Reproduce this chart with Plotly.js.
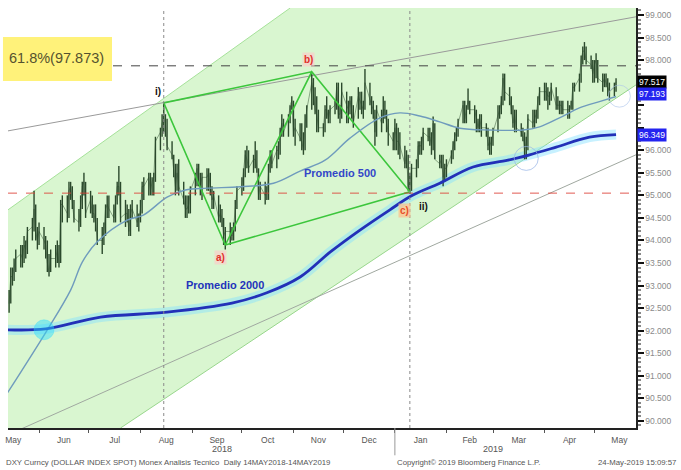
<!DOCTYPE html>
<html>
<head>
<meta charset="utf-8">
<script src="https://cdn.plot.ly/plotly-3.0.1.min.js"></script>
<style>html,body{margin:0;padding:0;background:#fff;}#chart{width:681px;height:470px;}</style>
</head>
<body>
<div id="chart"></div>
<script>
// ---- DATA ----
// daily closes, highs, lows; one group per week (Mon-Fri), 14-May-2018 .. 14-May-2019
const cl = [
92.6,93.2,93.2,93.4,93.6, 93.7,93.6,93.9,93.8,94.2, 94.3,94.7,94.2,94.0,94.2, 94.0,93.9,93.5,93.3,93.6,
93.6,93.8,93.5,94.8,94.8, 94.6,95.1,95.2,94.9,94.5, 94.4,94.8,95.2,95.3,94.6, 94.9,94.6,94.6,94.4,94.0,
94.0,94.2,94.7,94.8,94.7, 94.5,94.9,95.2,95.2,94.5, 94.6,94.6,94.2,94.6,94.7, 94.4,94.5,94.7,95.2,95.2,
95.4,95.1,95.3,95.4,96.2, 96.4,96.6,96.7,96.6,96.1, 95.9,95.6,95.2,95.5,95.2, 94.9,94.7,94.7,94.8,95.1,
95.4,95.6,95.3,95.2,95.4, 95.4,95.5,95.2,94.9,95.0, 94.5,94.6,94.5,94.1,94.2, 94.2,94.1,94.3,94.8,95.1,
95.2,95.5,95.9,95.8,95.6, 95.8,95.8,95.6,95.0,95.2, 95.0,95.1,95.6,95.9,95.7, 96.0,96.0,96.4,96.6,96.4,
96.7,97.0,97.1,96.4,96.5, 96.3,96.2,96.0,96.6,96.9, 97.5,97.3,96.9,96.8,96.5, 96.5,96.9,96.9,96.7,96.9,
97.0,97.4,96.8,96.8,97.3, 97.0,96.9,97.1,96.9,96.6, 97.2,97.1,97.0,96.9,97.5, 97.1,97.0,96.9,96.4,96.9,
96.6,96.9,96.9,96.6,96.4, 96.2,96.5,96.2,96.2,96.1, 95.7,95.9,95.2,95.2,95.6, 95.6,96.1,96.1,96.1,96.4,
96.3,96.3,96.1,96.6,95.8, 95.7,95.8,95.4,95.6,95.6, 95.9,96.1,96.3,96.4,96.6, 97.0,96.7,96.9,97.1,96.9,
96.9,96.7,96.5,96.7,96.5, 96.5,96.1,96.2,96.1,96.4, 96.8,96.9,97.1,97.6,97.3, 97.2,96.9,96.6,96.8,96.5,
96.4,96.3,96.0,96.2,96.7, 96.6,96.7,96.8,97.1,97.3, 97.3,97.3,97.2,97.2,97.4, 97.0,97.0,97.0,97.0,96.9,
96.9,96.9,97.0,97.4,97.4, 97.6,98.0,98.2,98.2,98.0, 97.9,97.7,97.9,98.0,97.6, 97.5,97.6,97.5,97.4,97.3,
97.4,97.52
];
const hi = [
92.9,93.4,93.4,93.6,93.8, 93.9,93.9,94.1,94.0,94.3, 94.5,95.1,94.8,94.3,94.4, 94.3,94.1,94.0,93.7,93.8,
93.9,94.0,93.9,94.9,95.0, 95.0,95.3,95.3,95.2,94.9, 94.7,95.0,95.3,95.5,95.3, 95.1,95.0,94.8,94.8,94.5,
94.3,94.4,94.8,95.0,95.0, 94.8,95.0,95.3,95.65,95.3, 94.9,94.8,94.7,94.8,94.9, 94.8,94.6,94.9,95.3,95.4,
95.5,95.5,95.4,95.5,96.3, 96.5,96.8,97.05,96.8,96.7, 96.2,95.9,95.7,95.7,95.8, 95.3,95.0,95.0,95.0,95.2,
95.5,95.7,95.7,95.5,95.5, 95.6,95.6,95.5,95.2,95.1, 95.0,94.8,94.7,94.5,94.3, 94.4,94.3,94.4,94.9,95.2,
95.4,95.6,96.0,96.1,96.0, 95.9,96.2,96.0,95.6,95.3, 95.3,95.2,95.7,96.0,96.0, 96.1,96.2,96.5,96.8,96.7,
96.8,97.0,97.2,97.1,96.7, 96.6,96.6,96.4,96.8,97.0, 97.7,97.6,97.4,97.2,96.9, 96.6,97.0,97.2,96.9,97.0,
97.1,97.5,97.5,97.0,97.5, 97.3,97.1,97.2,97.2,97.0, 97.4,97.3,97.3,97.1,97.8, 97.5,97.2,97.1,96.9,97.0,
96.9,97.2,97.1,96.9,96.7, 96.4,96.7,96.6,96.5,96.4, 96.1,96.0,95.9,95.5,95.7, 95.8,96.2,96.2,96.3,96.5,
96.5,96.5,96.4,96.75,96.6, 95.9,95.9,95.9,95.7,95.8, 96.0,96.2,96.4,96.5,96.7, 97.1,97.1,97.0,97.37,97.1,
97.0,96.9,96.7,96.8,96.8, 96.6,96.5,96.3,96.3,96.5, 97.0,97.0,97.2,97.7,97.7, 97.4,97.2,97.0,96.9,96.9,
96.6,96.5,96.4,96.3,96.8, 96.9,96.9,96.9,97.2,97.4, 97.5,97.5,97.4,97.3,97.5, 97.4,97.2,97.1,97.1,97.1,
97.1,97.0,97.1,97.5,97.5, 97.7,98.1,98.3,98.4,98.3, 98.1,98.0,98.0,98.15,98.0, 97.7,97.7,97.7,97.6,97.5,
97.5,97.6
];
const lo = [
92.4,92.6,93.0,93.1,93.3, 93.4,93.4,93.5,93.6,93.7, 94.0,94.2,94.0,93.8,93.9, 93.8,93.6,93.3,93.2,93.3,
93.4,93.5,93.4,93.5,94.4, 94.4,94.5,94.9,94.7,94.4, 94.2,94.3,94.7,95.0,94.5, 94.6,94.5,94.4,94.2,93.9,
93.7,93.9,94.1,94.5,94.5, 94.4,94.4,94.8,95.0,94.4, 94.3,94.4,94.1,94.1,94.5, 94.3,94.2,94.4,94.6,94.9,
95.0,95.0,95.0,95.0,95.3, 96.0,96.3,96.4,96.3,96.0, 95.8,95.4,95.0,95.1,95.0, 94.8,94.5,94.5,94.6,94.6,
95.0,95.2,95.2,95.0,94.9, 95.1,95.1,95.0,94.7,94.7, 94.4,94.4,94.3,93.9,93.8, 93.9,94.0,94.0,94.2,94.7,
95.0,95.1,95.4,95.6,95.5, 95.5,95.6,95.5,94.9,94.9, 94.8,94.9,94.9,95.5,95.6, 95.6,95.8,95.9,96.3,96.3,
96.3,96.6,96.9,96.3,96.1, 96.2,96.0,95.9,96.0,96.5, 96.9,97.0,96.8,96.4,96.4, 96.3,96.4,96.7,96.6,96.6,
96.8,96.9,96.7,96.6,96.7, 96.6,96.6,96.8,96.7,96.5, 96.7,96.9,96.8,96.7,96.9, 97.0,96.8,96.7,96.1,96.3,
96.4,96.6,96.7,96.4,96.1, 96.0,96.0,96.0,95.9,95.8, 95.6,95.6,95.1,95.03,95.1, 95.4,95.6,95.9,95.9,96.0,
96.2,96.1,95.9,96.0,95.8, 95.6,95.6,95.2,95.3,95.4, 95.7,95.8,96.0,96.2,96.3, 96.6,96.6,96.6,96.9,96.8,
96.6,96.4,96.4,96.4,96.3, 96.3,96.0,95.9,95.9,96.1, 96.4,96.7,96.8,97.0,97.1, 97.0,96.8,96.5,96.4,96.4,
96.3,96.2,95.8,95.8,96.0, 96.5,96.5,96.6,96.7,97.0, 97.1,97.1,96.9,97.0,97.1, 96.9,96.9,96.8,96.8,96.8,
96.7,96.7,96.9,96.9,97.3, 97.3,97.5,97.9,98.0,97.9, 97.8,97.5,97.5,97.6,97.5, 97.3,97.4,97.4,97.2,97.1,
97.2,97.3
];

// moving averages (sampled along the drawn curves)
const ma500Dates = ['2018-05-13','2018-06-06','2018-06-20','2018-06-27','2018-07-06','2018-07-24','2018-08-03','2018-08-17','2018-08-28','2018-09-10','2018-09-30','2018-10-20','2018-11-05','2018-11-20','2018-12-05','2018-12-23','2019-01-04','2019-01-16','2019-01-28','2019-02-09','2019-02-27','2019-03-19','2019-03-29','2019-04-10','2019-04-22','2019-05-04','2019-05-14'];
const ma500Vals  = [90.62,92.02,92.90,93.52,93.97,94.45,94.57,94.96,95.12,95.16,95.19,95.27,95.54,95.78,96.27,96.72,96.83,96.76,96.63,96.49,96.45,96.45,96.52,96.72,96.94,97.08,97.193];
const ma2000Dates = ['2018-05-13','2018-06-05','2018-07-08','2018-08-17','2018-09-25','2018-10-16','2018-11-05','2018-11-23','2018-12-11','2018-12-29','2019-01-11','2019-01-28','2019-02-17','2019-03-10','2019-03-23','2019-04-08','2019-04-28','2019-05-14'];
const ma2000Vals  = [92.02,92.04,92.30,92.41,92.61,92.84,93.19,93.74,94.23,94.68,94.99,95.27,95.63,95.78,95.90,96.07,96.29,96.349];

// wave points i) a) b) c)
const waveNames = ['i)','a)','b)','c)'];
const waveDates = ['2018-08-15','2018-09-21','2018-11-12','2019-01-10'];
const waveVals  = [97.05,93.90,97.74,95.08];

// channel and trend lines (two ends each)
const chanUpX = ['2018-05-13 08:00','2018-10-30'];      const chanUpY = [94.68,99.155];
const chanLoX = ['2018-07-20','2019-05-26'];            const chanLoY = [89.842,97.45];
const trendHiX = ['2018-05-13 08:00','2019-05-26'];     const trendHiY = [96.43,98.96];
const trendLoX = ['2018-05-20','2019-05-26'];           const trendLoY = [89.80,95.90];

// levels
const fibLevel = 97.873, fibText = '61.8%(97.873)';
const supportLevel = 95.05;
const lastPrice = 97.517;

// axis
const xRange = ['2018-05-13 08:00','2019-05-26'];
const yRange = [89.842,99.155];
const yTickVals = [90,90.5,91,91.5,92,92.5,93,93.5,94,94.5,95,95.5,96,96.5,97,97.5,98,98.5,99];
const yHiddenLabels = [96.5,97,97.5]; // covered by the value boxes in the original

// ---- build ----
function tradingDays(start, end){
  const out=[]; let d=new Date(start+'T00:00:00Z'); const e=new Date(end+'T00:00:00Z');
  while(d<=e){ const w=d.getUTCDay(); if(w!==0&&w!==6) out.push(d.toISOString().slice(0,10)); d=new Date(d.getTime()+86400000); }
  return out;
}
const dates = tradingDays('2018-05-14','2019-05-14');
const n = Math.min(dates.length, cl.length, hi.length, lo.length);

const barX=[], barY=[];
for(let i=0;i<n;i++){ barX.push(dates[i],dates[i],null); barY.push(lo[i],hi[i],null); }

const F = '"Liberation Sans", Arial, sans-serif';
const green = '#3cc63c';

const fillX = [chanUpX[0], chanUpX[1], xRange[1], xRange[1], chanLoX[0], xRange[0], chanUpX[0]];
const fillY = [chanUpY[0], chanUpY[1], yRange[1], chanLoY[1], chanLoY[0], yRange[0], chanUpY[0]];

const idx = [2,0,1,2,3,1]; // b-i-a-b-c-a
const traces = [
  {type:'scatter', x:fillX, y:fillY, fill:'toself', fillcolor:'#d9f6d0', line:{width:0}, mode:'lines', hoverinfo:'skip'},
  {type:'scatter', x:chanUpX, y:chanUpY, mode:'lines', line:{color:'#a6e29a', width:1}, hoverinfo:'skip'},
  {type:'scatter', x:chanLoX, y:chanLoY, mode:'lines', line:{color:'#98d68c', width:1}, hoverinfo:'skip'},
  {type:'scatter', x:trendHiX, y:trendHiY, mode:'lines', line:{color:'#9a9a9a', width:1}, hoverinfo:'skip'},
  {type:'scatter', x:trendLoX, y:trendLoY, mode:'lines', line:{color:'#a0a8a0', width:1}, hoverinfo:'skip'},
  {type:'scatter', x:ma2000Dates, y:ma2000Vals, mode:'lines', line:{color:'rgba(130,225,255,0.45)', width:10, shape:'spline'}, hoverinfo:'skip'},
  {type:'scatter', x:barX, y:barY, mode:'lines', connectgaps:false, line:{color:'#2b492c', width:1.4}, hoverinfo:'skip'},
  {type:'scatter', x:dates.slice(0,n), y:cl.slice(0,n), mode:'lines', line:{color:'rgba(43,73,44,0.6)', width:0.8}, hoverinfo:'skip'},
  {type:'scatter', x:idx.map(i=>waveDates[i]), y:idx.map(i=>waveVals[i]), mode:'lines', line:{color:green, width:1.6}, hoverinfo:'skip'},
  {type:'scatter', x:ma500Dates, y:ma500Vals, mode:'lines', line:{color:'#6f9bbd', width:1.4, shape:'spline'}, hoverinfo:'skip'},
  {type:'scatter', x:ma2000Dates, y:ma2000Vals, mode:'lines', line:{color:'#2230b8', width:2.8, shape:'spline'}, hoverinfo:'skip'}
];

const px2paperX = p => (p-8)/628;
const px2paperY = p => (428-p)/420;

const shapes = [
  {type:'line', xref:'paper', x0:px2paperX(113), x1:1, yref:'y', y0:fibLevel, y1:fibLevel, line:{color:'#444', width:1, dash:'dash'}},
  {type:'line', xref:'paper', x0:0, x1:1, yref:'y', y0:supportLevel, y1:supportLevel, line:{color:'rgba(220,60,50,0.85)', width:1, dash:'dash'}},
  {type:'line', xref:'x', x0:waveDates[0], x1:waveDates[0], yref:'paper', y0:0, y1:1, line:{color:'#8a8a8a', width:1, dash:'dot'}},
  {type:'line', xref:'x', x0:waveDates[3], x1:waveDates[3], yref:'paper', y0:0, y1:1, line:{color:'#8a8a8a', width:1, dash:'dot'}},
  {type:'line', xref:'x', x0:'2019-01-01', x1:'2019-01-01', yref:'paper', y0:0, y1:-0.065, line:{color:'#999', width:1}},
  {type:'rect', xref:'paper', x0:-0.008, x1:px2paperX(112), yref:'paper', y0:px2paperY(81), y1:px2paperY(37), fillcolor:'#fff27a', line:{width:0}, layer:'above'},
  {type:'circle', xref:'x', yref:'y', xsizemode:'pixel', ysizemode:'pixel', xanchor:'2018-06-04', yanchor:92.02, x0:-10, x1:10, y0:-10, y1:10, fillcolor:'rgba(40,220,255,0.45)', line:{color:'rgba(40,220,255,0.3)', width:1}},
  {type:'circle', xref:'x', yref:'y', xsizemode:'pixel', ysizemode:'pixel', xanchor:'2019-03-21', yanchor:95.82, x0:-12, x1:12, y0:-12, y1:12, line:{color:'rgba(150,180,230,0.7)', width:1}},
  {type:'circle', xref:'x', yref:'y', xsizemode:'pixel', ysizemode:'pixel', xanchor:'2019-05-16', yanchor:97.2, x0:-11, x1:11, y0:-11, y1:11, line:{color:'rgba(170,195,235,0.6)', width:1}}
];

function waveLabel(i, color, bg, xs, ys){
  return {x:waveDates[i], y:waveVals[i], xref:'x', yref:'y', text:'<b>'+waveNames[i]+'</b>', showarrow:false,
    xshift:xs, yshift:ys, font:{family:F, size:10, color:color}, bgcolor:bg};
}
const annotations = [
  {xref:'paper', yref:'paper', x:px2paperX(7), y:px2paperY(58), xanchor:'left', yanchor:'middle', text:fibText, showarrow:false, font:{family:F, size:14.5, color:'#55522f'}},
  waveLabel(0,'#111','rgba(0,0,0,0)',-6,11),
  waveLabel(1,'#e0302a','rgba(255,200,200,0.6)',-5,-13),
  waveLabel(2,'#e0302a','rgba(255,200,200,0.6)',-3,12),
  waveLabel(3,'#e8502a','rgba(255,190,140,0.7)',-5,-19),
  {x:waveDates[3], y:waveVals[3], xref:'x', yref:'y', text:'<b>ii)</b>', showarrow:false, xshift:14, yshift:-15, font:{family:F, size:10, color:'#111'}},
  {x:'2018-11-29', y:95.50, xref:'x', yref:'y', text:'<b>Promedio 500</b>', showarrow:false, font:{family:F, size:11, color:'#3347c8'}},
  {x:'2018-09-21', y:93.01, xref:'x', yref:'y', text:'<b>Promedio 2000</b>', showarrow:false, font:{family:F, size:11, color:'#2233bb'}},
  {xref:'paper', yref:'y', x:1, y:lastPrice, xanchor:'left', yanchor:'middle', xshift:1, text:lastPrice.toFixed(3), showarrow:false, bgcolor:'#000', font:{family:F, size:8.5, color:'#fff'}, borderpad:1},
  {xref:'paper', yref:'y', x:1, y:ma500Vals[ma500Vals.length-1], xanchor:'left', yanchor:'middle', xshift:1, yshift:2, text:ma500Vals[ma500Vals.length-1].toFixed(3), showarrow:false, bgcolor:'#2424f0', font:{family:F, size:8.5, color:'#fff'}, borderpad:1},
  {xref:'paper', yref:'y', x:1, y:ma2000Vals[ma2000Vals.length-1], xanchor:'left', yanchor:'middle', xshift:1, text:ma2000Vals[ma2000Vals.length-1].toFixed(3), showarrow:false, bgcolor:'#2424f0', font:{family:F, size:8.5, color:'#fff'}, borderpad:1},
  {xref:'paper', yref:'paper', x:px2paperX(210), y:px2paperY(449), yanchor:'middle', text:'2018', showarrow:false, font:{family:F, size:9, color:'#555'}},
  {xref:'paper', yref:'paper', x:px2paperX(505), y:px2paperY(449), yanchor:'middle', text:'2019', showarrow:false, font:{family:F, size:9, color:'#555'}},
  {xref:'paper', yref:'paper', x:px2paperX(4), y:px2paperY(462), xanchor:'left', yanchor:'middle', text:'DXY Curncy (DOLLAR INDEX SPOT) Monex Analisis Tecnico  Daily 14MAY2018-14MAY2019', showarrow:false, font:{family:F, size:7.8, color:'#555'}},
  {xref:'paper', yref:'paper', x:px2paperX(395), y:px2paperY(462), xanchor:'left', yanchor:'middle', text:'Copyright© 2019 Bloomberg Finance L.P.', showarrow:false, font:{family:F, size:7.8, color:'#555'}},
  {xref:'paper', yref:'paper', x:px2paperX(678), y:px2paperY(462), xanchor:'right', yanchor:'middle', text:'24-May-2019 15:09:57', showarrow:false, font:{family:F, size:7.8, color:'#555'}}
];
if(n!==dates.length || n!==cl.length || n!==hi.length || n!==lo.length){
  annotations.push({xref:'paper',yref:'paper',x:0.5,y:0.5,text:'len '+dates.length+' '+cl.length+' '+hi.length+' '+lo.length,showarrow:false,font:{size:14,color:'red'}});
}

const layout = {
  width:681, height:470, margin:{l:8, r:45, t:8, b:42},
  paper_bgcolor:'#fff', plot_bgcolor:'#fff', showlegend:false, font:{family:F},
  xaxis:{type:'date', range:xRange, showgrid:false, zeroline:false,
    showline:true, linecolor:'#222', linewidth:1.5, ticks:'outside', ticklen:3, tickcolor:'#555',
    dtick:'M1', tick0:'2018-05-01', ticklabelmode:'period', tickformat:'%b',
    tickfont:{family:F, size:8.5, color:'#555'}, fixedrange:true},
  yaxis:{side:'right', range:yRange, tickmode:'array', tickvals:yTickVals,
    ticktext:yTickVals.map(v=> yHiddenLabels.indexOf(v)>=0 ? '' : v.toFixed(3)),
    showgrid:false, zeroline:false,
    showline:true, linecolor:'#222', linewidth:1.5, ticks:'outside', ticklen:6, tickwidth:2, tickcolor:'#111',
    tickfont:{family:F, size:8.5, color:'#8a8a8a'},
    minor:{ticks:'outside', dtick:0.1, ticklen:3, tickcolor:'#888'}, fixedrange:true},
  shapes:shapes, annotations:annotations, hovermode:false
};

Plotly.newPlot('chart', traces, layout, {displayModeBar:false, staticPlot:true});
</script>
</body>
</html>
